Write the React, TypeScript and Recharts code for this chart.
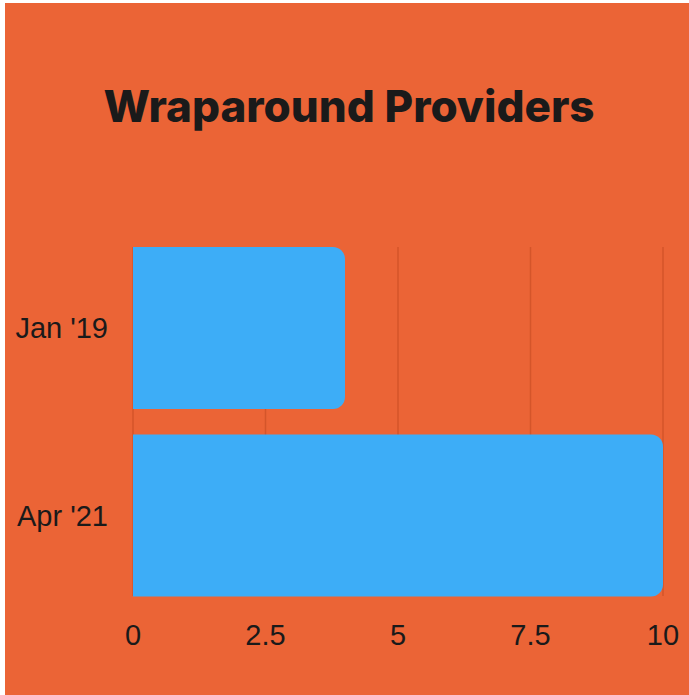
import React from 'react';
import { BarChart, Bar, XAxis, YAxis, CartesianGrid } from 'recharts';

const periods = ["Jan '19", "Apr '21"];
const providers = [4, 10];
const xTicks = [0, 2.5, 5, 7.5, 10];

const data = periods.map((name, i) => ({ name, value: providers[i] }));

const tickFont = { fill: '#1a1a1a', fontSize: 29, fontFamily: 'Liberation Sans, Arial, sans-serif' };

export default function App() {
  return (
    <div style={{ position: 'absolute', left: 0, top: 0, width: 689, height: 695, background: '#ffffff', overflow: 'hidden' }}>
      <div style={{ position: 'absolute', left: 5, top: 3, width: 684, height: 692, background: '#EB6436' }} />
      <div
        style={{
          position: 'absolute',
          left: 0,
          top: 78,
          width: 698,
          textAlign: 'center',
          fontFamily: 'Inter, sans-serif',
          fontWeight: 800,
          fontSize: 44,
          color: '#1a1a1a',
          lineHeight: '56px',
        }}
      >
        Wraparound Providers
      </div>
      <div style={{ position: 'absolute', left: 0, top: 0 }}>
        <BarChart
          width={689}
          height={695}
          data={data}
          layout="vertical"
          margin={{ top: 234, right: 26, bottom: 46, left: 13 }}
        >
          {/* grid only spans the bars, like the reference */}
          <CartesianGrid horizontal={false} stroke="#D4552A" strokeWidth={1.5} y={247} height={349} />
          <XAxis
            type="number"
            domain={[0, 10]}
            ticks={xTicks}
            axisLine={false}
            tickLine={false}
            tickMargin={9}
            height={40}
            tick={tickFont}
          />
          <YAxis
            type="category"
            dataKey="name"
            width={120}
            axisLine={false}
            tickLine={false}
            tickMargin={19}
            tick={tickFont}
          />
          <Bar dataKey="value" fill="#3DADF7" barSize={162} radius={[0, 12, 12, 0]} isAnimationActive={false} />
        </BarChart>
      </div>
    </div>
  );
}
